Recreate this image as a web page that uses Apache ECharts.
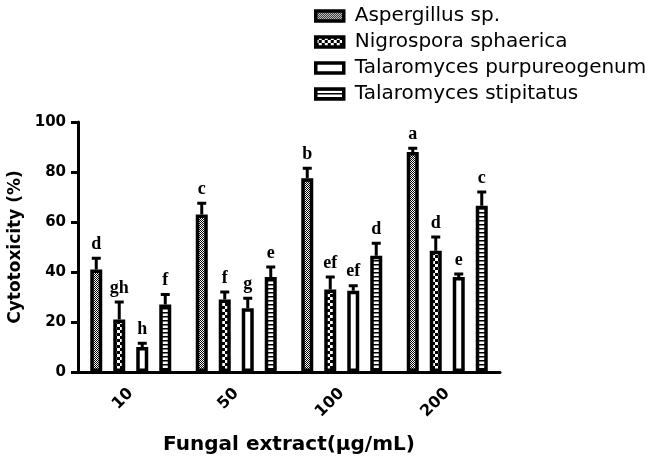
<!DOCTYPE html>
<html>
<head>
<meta charset="utf-8">
<script src="https://cdn.jsdelivr.net/npm/echarts@6/dist/echarts.min.js"></script>
<style>html,body{margin:0;padding:0;background:#fff;}#c{width:653px;height:459px;}</style>
</head>
<body>
<div id="c"></div>
<script>
const categories = ['10', '50', '100', '200'];
const seriesNames = ['Aspergillus sp.', 'Nigrospora sphaerica', 'Talaromyces purpureogenum', 'Talaromyces stipitatus'];
const aspergillus = [41, 63, 77.5, 88];
const nigrospora = [21, 29, 33, 48.5];
const purpureogenum = [10, 25.5, 32.5, 38];
const stipitatus = [27, 38, 46.5, 66.5];
const aspergillusSD = [4.5, 4.5, 4, 1.5];
const nigrosporaSD = [7, 3, 5, 5.5];
const purpureogenumSD = [1.5, 4, 2, 1.2];
const stipitatusSD = [4, 4, 5, 5.5];
const aspergillusLetters = ['d', 'c', 'b', 'a'];
const nigrosporaLetters = ['gh', 'f', 'ef', 'd'];
const purpureogenumLetters = ['h', 'g', 'ef', 'e'];
const stipitatusLetters = ['f', 'e', 'd', 'c'];
const yTicks = [0, 20, 40, 60, 80, 100];

const BAR_W = 12, PITCH = 23;
const SANS = '"DejaVu Sans", Verdana, sans-serif';

function pattern(w, h, draw) {
  const c = document.createElement('canvas');
  c.width = w; c.height = h;
  const ctx = c.getContext('2d');
  ctx.fillStyle = '#fff'; ctx.fillRect(0, 0, w, h);
  ctx.fillStyle = '#000';
  draw(ctx);
  return { image: c, repeat: 'repeat' };
}
const fineChecker = pattern(2, 2, ctx => { ctx.fillRect(0, 0, 1, 1); ctx.fillRect(1, 1, 1, 1); });
const coarseChecker = pattern(6, 6, ctx => { ctx.fillRect(0, 0, 3, 3); ctx.fillRect(3, 3, 3, 3); });
const ladder = pattern(4, 4, ctx => { ctx.fillRect(0, 0, 4, 1.5); });
const fills = [fineChecker, coarseChecker, '#ffffff', ladder];

const values = [aspergillus, nigrospora, purpureogenum, stipitatus];
const sds = [aspergillusSD, nigrosporaSD, purpureogenumSD, stipitatusSD];
const letters = [aspergillusLetters, nigrosporaLetters, purpureogenumLetters, stipitatusLetters];

const errData = [];
values.forEach((arr, si) => arr.forEach((v, ci) => errData.push([ci, v, sds[si][ci], si, letters[si][ci]])));

const barSeries = seriesNames.map((name, si) => ({
  name, type: 'bar', data: values[si], barWidth: BAR_W, barGap: ((PITCH - BAR_W) / BAR_W * 100) + '%',
  itemStyle: { color: fills[si], borderColor: '#000', borderWidth: 3.5 }
}));

const chart = echarts.init(document.getElementById('c'));
chart.setOption({
  animation: false,
  backgroundColor: '#fff',
  grid: { left: 78, right: 153, top: 122, bottom: 87, containLabel: false, outerBoundsMode: 'none' },
  legend: {
    orient: 'vertical', left: 309, top: 0, itemWidth: 28, itemHeight: 10, itemGap: 4,
    icon: 'rect',
    data: seriesNames,
    itemStyle: { borderColor: '#000', borderWidth: 3.5 },
    textStyle: { fontFamily: SANS, fontSize: 20, color: '#000', lineHeight: 22, padding: [0, 0, 0, 6] }
  },
  xAxis: {
    type: 'category', data: categories,
    name: 'Fungal extract(μg/mL)', nameLocation: 'middle', nameGap: 63,
    nameTextStyle: { fontFamily: SANS, fontWeight: 'bold', fontSize: 20, color: '#000' },
    axisLine: { lineStyle: { color: '#000', width: 3 } },
    axisTick: { alignWithLabel: true, length: 7, lineStyle: { color: '#000', width: 3 } },
    axisLabel: { rotate: 45, margin: 19, fontFamily: SANS, fontWeight: 'bold', fontSize: 16, color: '#000' }
  },
  yAxis: {
    type: 'value', min: 0, max: 100, interval: 20,
    name: 'Cytotoxicity (%)', nameLocation: 'middle', nameGap: 47,
    nameTextStyle: { fontFamily: SANS, fontWeight: 'bold', fontSize: 17, color: '#000' },
    axisLine: { show: true, lineStyle: { color: '#000', width: 3 } },
    axisTick: { show: true, length: 7, lineStyle: { color: '#000', width: 3 } },
    splitLine: { show: false },
    axisLabel: { margin: 12, fontFamily: SANS, fontWeight: 'bold', fontSize: 15, color: '#000',
      formatter: v => yTicks.includes(v) ? String(v) : '' }
  },
  series: barSeries.concat([{
    type: 'custom', z: 10, silent: true,
    data: errData,
    encode: { x: 0, y: 1 },
    renderItem: (params, api) => {
      const ci = api.value(0), v = api.value(1), sd = api.value(2), si = api.value(3);
      const lab = errData[params.dataIndex][4];
      const base = api.coord([ci, v]);
      const top = api.coord([ci, v + sd]);
      const x = base[0] + (si - 1.5) * PITCH;
      return {
        type: 'group',
        children: [
          { type: 'line', shape: { x1: x, y1: base[1], x2: x, y2: top[1] }, style: { stroke: '#000', lineWidth: 3 } },
          { type: 'line', shape: { x1: x - 4.5, y1: top[1], x2: x + 4.5, y2: top[1] }, style: { stroke: '#000', lineWidth: 3 } },
          { type: 'text', x: x, y: top[1] - 5, style: { text: lab, align: 'center', verticalAlign: 'bottom',
            font: 'bold 18px "Liberation Serif", "Times New Roman", serif', fill: '#000' } }
        ]
      };
    }
  }])
});
</script>
</body>
</html>
